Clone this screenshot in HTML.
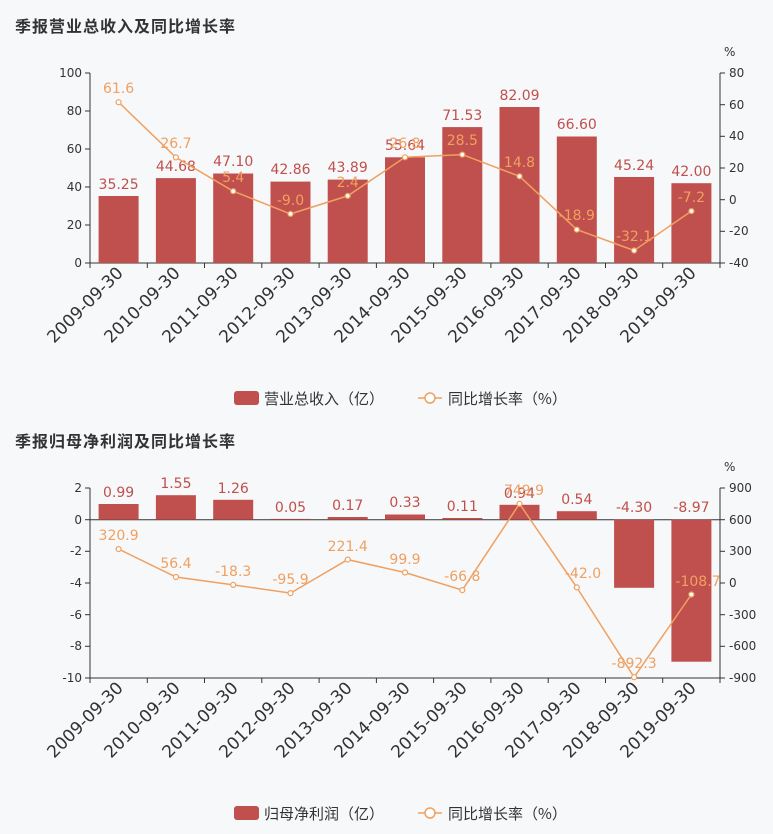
<!DOCTYPE html><html><head><meta charset="utf-8"><style>
body{margin:0;background:#f7f8fa}
svg{display:block;font-family:"DejaVu Sans","Noto Sans CJK SC",sans-serif}
.t{font-size:16px;font-weight:bold;fill:#333;letter-spacing:1px;font-family:"Noto Sans CJK SC",sans-serif}
.ax{font-size:12px;fill:#333}
.xl{font-size:17px;fill:#333}
.bl{font-size:14px;fill:#c0504d;text-anchor:middle}
.ll{font-size:14px;fill:#f0a060;text-anchor:middle}
.lg{font-size:15px;fill:#333;font-family:"Noto Sans CJK SC",sans-serif}
</style></head><body>
<svg width="773" height="834" viewBox="0 0 773 834">
<rect width="773" height="834" fill="#f7f8fa"/>
<text class="t" x="15" y="32">季报营业总收入及同比增长率</text>
<text class="ax" x="724" y="56">%</text>
<g stroke="#333" stroke-width="1">
<line x1="90" y1="73" x2="90" y2="263"/><line x1="720" y1="73" x2="720" y2="263"/><line x1="90" y1="263" x2="720" y2="263"/>
<line x1="85" y1="73" x2="90" y2="73"/><line x1="85" y1="111" x2="90" y2="111"/><line x1="85" y1="149" x2="90" y2="149"/><line x1="85" y1="187" x2="90" y2="187"/><line x1="85" y1="225" x2="90" y2="225"/><line x1="85" y1="263" x2="90" y2="263"/>
<line x1="720" y1="73" x2="725" y2="73"/><line x1="720" y1="104.7" x2="725" y2="104.7"/><line x1="720" y1="136.3" x2="725" y2="136.3"/><line x1="720" y1="168" x2="725" y2="168"/><line x1="720" y1="199.7" x2="725" y2="199.7"/><line x1="720" y1="231.3" x2="725" y2="231.3"/><line x1="720" y1="263" x2="725" y2="263"/>
<line x1="90" y1="263" x2="90" y2="268"/><line x1="147.3" y1="263" x2="147.3" y2="268"/><line x1="204.5" y1="263" x2="204.5" y2="268"/><line x1="261.8" y1="263" x2="261.8" y2="268"/><line x1="319.1" y1="263" x2="319.1" y2="268"/><line x1="376.4" y1="263" x2="376.4" y2="268"/><line x1="433.6" y1="263" x2="433.6" y2="268"/><line x1="490.9" y1="263" x2="490.9" y2="268"/><line x1="548.2" y1="263" x2="548.2" y2="268"/><line x1="605.5" y1="263" x2="605.5" y2="268"/><line x1="662.7" y1="263" x2="662.7" y2="268"/><line x1="720" y1="263" x2="720" y2="268"/>
</g>
<g class="ax" text-anchor="end"><text x="82" y="77">100</text><text x="82" y="115">80</text><text x="82" y="153">60</text><text x="82" y="191">40</text><text x="82" y="229">20</text><text x="82" y="267">0</text></g>
<g class="ax"><text x="729" y="77">80</text><text x="729" y="109">60</text><text x="729" y="140">40</text><text x="729" y="172">20</text><text x="729" y="204">0</text><text x="729" y="235">-20</text><text x="729" y="267">-40</text></g>
<g fill="#c0504d">
<rect x="98.6" y="196" width="40" height="67"/><rect x="155.9" y="178.1" width="40" height="84.9"/><rect x="213.2" y="173.5" width="40" height="89.5"/><rect x="270.5" y="181.6" width="40" height="81.4"/><rect x="327.7" y="179.6" width="40" height="83.4"/><rect x="385" y="157.3" width="40" height="105.7"/><rect x="442.3" y="127.1" width="40" height="135.9"/><rect x="499.5" y="107" width="40" height="156"/><rect x="556.8" y="136.5" width="40" height="126.5"/><rect x="614.1" y="177" width="40" height="86"/><rect x="671.4" y="183.2" width="40" height="79.8"/>
</g>
<g class="bl"><text x="118.6" y="189">35.25</text><text x="175.9" y="171">44.68</text><text x="233.2" y="166">47.10</text><text x="290.5" y="174">42.86</text><text x="347.7" y="172">43.89</text><text x="405" y="150">55.64</text><text x="462.3" y="120">71.53</text><text x="519.5" y="100">82.09</text><text x="576.8" y="129">66.60</text><text x="634.1" y="170">45.24</text><text x="691.4" y="176">42.00</text></g>
<polyline fill="none" stroke="#f0a060" stroke-width="1.5" points="118.6,102.2 175.9,157.4 233.2,191.2 290.5,213.9 347.7,195.9 405,157.3 462.3,154.6 519.5,176.3 576.8,229.6 634.1,250.5 691.4,211.1"/>
<g fill="#fff" stroke="#f0a060" stroke-width="1.2"><circle cx="118.6" cy="102.2" r="2.5"/><circle cx="175.9" cy="157.4" r="2.5"/><circle cx="233.2" cy="191.2" r="2.5"/><circle cx="290.5" cy="213.9" r="2.5"/><circle cx="347.7" cy="195.9" r="2.5"/><circle cx="405" cy="157.3" r="2.5"/><circle cx="462.3" cy="154.6" r="2.5"/><circle cx="519.5" cy="176.3" r="2.5"/><circle cx="576.8" cy="229.6" r="2.5"/><circle cx="634.1" cy="250.5" r="2.5"/><circle cx="691.4" cy="211.1" r="2.5"/></g>
<g class="ll"><text x="118.6" y="93">61.6</text><text x="175.9" y="148">26.7</text><text x="233.2" y="182">5.4</text><text x="290.5" y="205">-9.0</text><text x="347.7" y="187">2.4</text><text x="405" y="148">26.8</text><text x="462.3" y="145">28.5</text><text x="519.5" y="167">14.8</text><text x="576.8" y="220">-18.9</text><text x="634.1" y="241">-32.1</text><text x="691.4" y="202">-7.2</text></g>
<g class="xl" text-anchor="end">
<text transform="translate(124,274) rotate(-45)">2009-09-30</text><text transform="translate(181,274) rotate(-45)">2010-09-30</text><text transform="translate(239,274) rotate(-45)">2011-09-30</text><text transform="translate(296,274) rotate(-45)">2012-09-30</text><text transform="translate(353,274) rotate(-45)">2013-09-30</text><text transform="translate(411,274) rotate(-45)">2014-09-30</text><text transform="translate(468,274) rotate(-45)">2015-09-30</text><text transform="translate(525,274) rotate(-45)">2016-09-30</text><text transform="translate(582,274) rotate(-45)">2017-09-30</text><text transform="translate(640,274) rotate(-45)">2018-09-30</text><text transform="translate(697,274) rotate(-45)">2019-09-30</text>
</g>
<rect x="234" y="391" width="25" height="14" rx="3" fill="#c0504d"/>
<text class="lg" x="264" y="404">营业总收入（亿）</text>
<line x1="418" y1="398" x2="442" y2="398" stroke="#f0a060" stroke-width="1.5"/><circle cx="430" cy="398" r="5" fill="#fff" stroke="#f0a060" stroke-width="1.5"/>
<text class="lg" x="448" y="404">同比增长率（%）</text>

<text class="t" x="15" y="447">季报归母净利润及同比增长率</text>
<text class="ax" x="724" y="471">%</text>
<g stroke="#333" stroke-width="1">
<line x1="90" y1="488" x2="90" y2="678"/><line x1="720" y1="488" x2="720" y2="678"/><line x1="90" y1="678" x2="720" y2="678"/><line x1="90" y1="519.7" x2="720" y2="519.7"/>
<line x1="85" y1="488" x2="90" y2="488"/><line x1="85" y1="519.7" x2="90" y2="519.7"/><line x1="85" y1="551.3" x2="90" y2="551.3"/><line x1="85" y1="583" x2="90" y2="583"/><line x1="85" y1="614.7" x2="90" y2="614.7"/><line x1="85" y1="646.3" x2="90" y2="646.3"/><line x1="85" y1="678" x2="90" y2="678"/>
<line x1="720" y1="488" x2="725" y2="488"/><line x1="720" y1="519.7" x2="725" y2="519.7"/><line x1="720" y1="551.3" x2="725" y2="551.3"/><line x1="720" y1="583" x2="725" y2="583"/><line x1="720" y1="614.7" x2="725" y2="614.7"/><line x1="720" y1="646.3" x2="725" y2="646.3"/><line x1="720" y1="678" x2="725" y2="678"/>
<line x1="90" y1="678" x2="90" y2="683"/><line x1="147.3" y1="678" x2="147.3" y2="683"/><line x1="204.5" y1="678" x2="204.5" y2="683"/><line x1="261.8" y1="678" x2="261.8" y2="683"/><line x1="319.1" y1="678" x2="319.1" y2="683"/><line x1="376.4" y1="678" x2="376.4" y2="683"/><line x1="433.6" y1="678" x2="433.6" y2="683"/><line x1="490.9" y1="678" x2="490.9" y2="683"/><line x1="548.2" y1="678" x2="548.2" y2="683"/><line x1="605.5" y1="678" x2="605.5" y2="683"/><line x1="662.7" y1="678" x2="662.7" y2="683"/><line x1="720" y1="678" x2="720" y2="683"/>
</g>
<g class="ax" text-anchor="end"><text x="82" y="492">2</text><text x="82" y="524">0</text><text x="82" y="555">-2</text><text x="82" y="587">-4</text><text x="82" y="619">-6</text><text x="82" y="650">-8</text><text x="82" y="682">-10</text></g>
<g class="ax"><text x="729" y="492">900</text><text x="729" y="524">600</text><text x="729" y="555">300</text><text x="729" y="587">0</text><text x="729" y="619">-300</text><text x="729" y="650">-600</text><text x="729" y="682">-900</text></g>
<g fill="#c0504d">
<rect x="98.6" y="504" width="40" height="15.7"/><rect x="155.9" y="495.2" width="40" height="24.5"/><rect x="213.2" y="499.8" width="40" height="19.9"/><rect x="270.5" y="518.9" width="40" height="0.8"/><rect x="327.7" y="517" width="40" height="2.7"/><rect x="385" y="514.5" width="40" height="5.2"/><rect x="442.3" y="518" width="40" height="1.7"/><rect x="499.5" y="504.8" width="40" height="14.9"/><rect x="556.8" y="511.2" width="40" height="8.5"/><rect x="614.1" y="519.7" width="40" height="68.1"/><rect x="671.4" y="519.7" width="40" height="142"/>
</g>
<g class="bl"><text x="118.6" y="497">0.99</text><text x="175.9" y="488">1.55</text><text x="233.2" y="493">1.26</text><text x="290.5" y="512">0.05</text><text x="347.7" y="510">0.17</text><text x="405" y="507">0.33</text><text x="462.3" y="511">0.11</text><text x="519.5" y="498">0.94</text><text x="576.8" y="504">0.54</text><text x="634.1" y="512">-4.30</text><text x="691.4" y="512">-8.97</text></g>
<polyline fill="none" stroke="#f0a060" stroke-width="1.5" points="118.6,549.1 175.9,577 233.2,584.9 290.5,593.1 347.7,559.6 405,572.5 462.3,590.1 519.5,503.8 576.8,587.4 634.1,677.2 691.4,594.5"/>
<g fill="#fff" stroke="#f0a060" stroke-width="1.2"><circle cx="118.6" cy="549.1" r="2.5"/><circle cx="175.9" cy="577" r="2.5"/><circle cx="233.2" cy="584.9" r="2.5"/><circle cx="290.5" cy="593.1" r="2.5"/><circle cx="347.7" cy="559.6" r="2.5"/><circle cx="405" cy="572.5" r="2.5"/><circle cx="462.3" cy="590.1" r="2.5"/><circle cx="519.5" cy="503.8" r="2.5"/><circle cx="576.8" cy="587.4" r="2.5"/><circle cx="634.1" cy="677.2" r="2.5"/><circle cx="691.4" cy="594.5" r="2.5"/></g>
<g class="ll"><text x="118.6" y="540">320.9</text><text x="175.9" y="568">56.4</text><text x="233.2" y="576">-18.3</text><text x="290.5" y="584">-95.9</text><text x="347.7" y="551">221.4</text><text x="405" y="564">99.9</text><text x="462.3" y="581">-66.8</text><text x="524" y="495">749.9</text><text x="583" y="578">-42.0</text><text x="634.1" y="668">-892.3</text><text x="698" y="586">-108.7</text></g>
<g class="xl" text-anchor="end">
<text transform="translate(124,689) rotate(-45)">2009-09-30</text><text transform="translate(181,689) rotate(-45)">2010-09-30</text><text transform="translate(239,689) rotate(-45)">2011-09-30</text><text transform="translate(296,689) rotate(-45)">2012-09-30</text><text transform="translate(353,689) rotate(-45)">2013-09-30</text><text transform="translate(411,689) rotate(-45)">2014-09-30</text><text transform="translate(468,689) rotate(-45)">2015-09-30</text><text transform="translate(525,689) rotate(-45)">2016-09-30</text><text transform="translate(582,689) rotate(-45)">2017-09-30</text><text transform="translate(640,689) rotate(-45)">2018-09-30</text><text transform="translate(697,689) rotate(-45)">2019-09-30</text>
</g>
<rect x="234" y="806" width="25" height="14" rx="3" fill="#c0504d"/>
<text class="lg" x="264" y="819">归母净利润（亿）</text>
<line x1="418" y1="813" x2="442" y2="813" stroke="#f0a060" stroke-width="1.5"/><circle cx="430" cy="813" r="5" fill="#fff" stroke="#f0a060" stroke-width="1.5"/>
<text class="lg" x="448" y="819">同比增长率（%）</text>
</svg>
</body></html>
